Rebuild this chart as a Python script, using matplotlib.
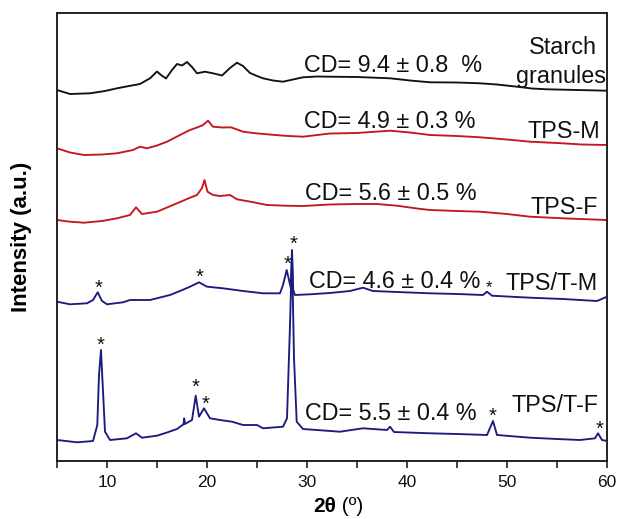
import matplotlib
matplotlib.use("Agg")
import matplotlib.pyplot as plt
from matplotlib.ticker import MultipleLocator

plt.rcParams['font.family'] = ['Liberation Sans', 'DejaVu Sans']

# ---- data (2theta in degrees, intensity in arbitrary stacked units) ----
starch_x = [5.0, 6.3, 8.3, 9.8, 11.0, 12.2, 13.3, 14.3, 15.0, 15.4, 15.9, 16.5, 17.0, 17.5, 18.0,
            18.5, 19.0, 19.8, 20.6, 21.5, 22.3, 23.0, 23.6, 24.3, 25.0, 25.6, 26.6, 27.6, 28.6,
            29.6, 31.0, 32.3, 35.0, 38.3, 40.3, 42.3, 45.0, 47.3, 49.0, 51.0, 52.5, 54.0, 57.0,
            60.0]
starch_y = [371, 367, 367.7, 370, 372.7, 375, 377, 382.7, 389.5, 386, 382.5, 391, 397, 395.5, 399,
            394, 387.7, 389.3, 387.7, 385.5, 393, 398.3, 395, 388, 385, 382.7, 380.5, 379.3, 381.5,
            383.7, 384.5, 384.3, 384, 382.7, 380.5, 378.7, 378.5, 377.7, 376.5, 374.3, 372.5, 371.7,
            371, 370.3]

tpsm_x = [5.0, 6.3, 7.7, 9.5, 11.0, 12.6, 13.3, 14.0, 15.0, 16.0, 17.2, 18.3, 19.0, 19.6, 20.1,
          20.6, 21.5, 22.4, 23.6, 24.8, 26.0, 27.8, 29.6, 32.3, 35.0, 38.3, 40.3, 42.3, 45.0,
          47.3, 50.0, 52.3, 55.0, 57.5, 60.0]
tpsm_y = [312.7, 308.5, 306, 306.5, 307.7, 311, 314.3, 312.7, 315.5, 319.3, 325.5, 331, 333.5, 336,
          340.3, 334.3, 333.5, 333.7, 329.3, 327.8, 326.7, 325.2, 324.3, 327.5, 328, 330.3, 328.5,
          326, 325, 323.7, 321.5, 319.3, 318, 316.5, 316]

tpsf_x = [5.0, 6.3, 7.7, 9.5, 11.0, 12.3, 12.9, 13.5, 15.0, 16.0, 17.0, 18.0, 19.0, 19.5, 19.75,
          20.05, 20.6, 21.3, 22.3, 23.0, 24.5, 26.0, 27.8, 29.6, 32.3, 35.0, 37.0, 39.0, 41.0,
          42.3, 45.0, 47.3, 50.0, 52.3, 56.0, 60.0]
tpsf_y = [241, 239.3, 238.3, 240, 242.7, 246, 253.7, 247, 249.3, 253.5, 257.7, 262, 266, 273, 281,
          269.3, 266, 265, 266, 261.7, 259, 256, 255.3, 255, 256.5, 257, 257, 255.3, 252.5,
          251, 250, 249.3, 247, 244.3, 242.5, 241]

ttm_x = [5.0, 6.3, 8.0, 8.6, 9.07, 9.5, 10.0, 11.6, 12.3, 14.3, 15.3, 16.3, 17.3, 18.3, 19.2, 20.0,
         21.6, 23.6, 25.6, 27.3, 27.6, 27.97, 28.2, 28.38, 28.5, 28.62, 28.8, 30.3, 32.3, 34.3,
         35.6, 36.6, 39.0, 42.3, 45.0, 47.6, 48.0, 48.5, 50.0, 52.3, 55.6, 59.0, 60.0]
ttm_y = [159.3, 156.7, 157.7, 161, 168.7, 160, 156.7, 158.7, 161, 161, 163.5, 166, 170, 174.3,
         178.7, 174.3, 172.7, 170, 167.7, 167.7, 176, 191, 181, 173, 211, 171, 166, 166.7, 168,
         170, 173.3, 170, 169, 167.7, 167, 166, 169.3, 165.3, 164.5, 163.3, 162, 160, 164.3]

ttf_x = [5.0, 7.0, 8.6, 9.03, 9.2, 9.4, 9.57, 9.8, 10.3, 12.0, 12.9, 13.5, 15.0, 16.0, 17.0,
         17.65, 17.72, 17.8, 18.5, 18.87, 19.2, 19.7, 20.3, 21.3, 22.5, 23.6, 25.0, 25.6, 27.6,
         28.0, 28.3, 28.5, 28.7, 28.97, 29.6, 30.97, 33.3, 35.6, 38.0, 38.3, 38.7, 42.3, 45.0,
         48.0, 48.6, 49.0, 52.3, 55.0, 57.3, 58.8, 59.1, 59.5, 60.0]
ttf_y = [21, 18.7, 20, 36, 86, 111, 76, 29.3, 21, 22.7, 27.7, 23.3, 25.3, 28.5, 32,
         36.7, 42.7, 37, 41, 65.3, 44.3, 52.7, 42.7, 41, 39.3, 36, 36, 32.7, 34.3,
         42.7, 136, 209, 103, 39.3, 32, 31, 29.3, 32.7, 31, 34.3, 29, 27.7, 27,
         26, 40, 26, 23.3, 22, 21, 22.7, 27.7, 21, 20]

# asterisk marks (crystalline peaks)
star_x = [9.13, 19.23, 28.03, 28.63, 9.4, 18.9, 19.87, 48.57, 59.23]
star_y = [178.7, 189.3, 202.7, 222.7, 122, 79.3, 62.7, 51, 37.7]
small_star_x = [48.2]
small_star_y = [177.7]

cd_labels = ["CD= 9.4 \u00b1 0.8  %", "CD= 4.9 \u00b1 0.3 %", "CD= 5.6 \u00b1 0.5 %",
             "CD= 4.6 \u00b1 0.4 %", "CD= 5.5 \u00b1 0.4 %"]
cd_x = [29.7, 29.7, 29.8, 30.2, 29.8]
cd_y = [389, 332.7, 261, 172.7, 41]

sample_labels = ["TPS-M", "TPS-F", "TPS/T-M", "TPS/T-F"]
sample_x = [59.3, 59.1, 59.1, 59.2]
sample_y = [323.3, 246.7, 171, 49.3]

xticks = [10, 20, 30, 40, 50, 60]

BLACK = '#111111'
RED = '#c4161c'
NAVY = '#1c1c7e'

fig = plt.figure(figsize=(6.19, 5.19), dpi=100)
ax = fig.add_axes([57 / 619, 1 - 461 / 519, 550 / 619, 448 / 519])

for xs, ys, c in [(starch_x, starch_y, BLACK), (tpsm_x, tpsm_y, RED), (tpsf_x, tpsf_y, RED),
                  (ttm_x, ttm_y, NAVY), (ttf_x, ttf_y, NAVY)]:
    ax.plot(xs, ys, color=c, lw=1.35, solid_joinstyle='round')

for sx, sy in zip(star_x, star_y):
    ax.annotate('*', (sx, sy), xytext=(0, -8.2), textcoords='offset points',
                ha='center', va='baseline', fontsize=14.5, color='#111111')
for sx, sy in zip(small_star_x, small_star_y):
    ax.annotate('*', (sx, sy), xytext=(0, -6.6), textcoords='offset points',
                ha='center', va='baseline', fontsize=12, color='#111111')

for lab, lx, ly in zip(cd_labels, cd_x, cd_y):
    ax.text(lx, ly, lab, ha='left', va='baseline', fontsize=16.8, color='#111111')

ax.text(55.6, 407, "Starch", ha='center', va='baseline', fontsize=16.8, color='#111111')
ax.text(55.4, 378, "granules", ha='center', va='baseline', fontsize=16.8, color='#111111')
for lab, lx, ly in zip(sample_labels, sample_x, sample_y):
    ax.text(lx, ly, lab, ha='right', va='baseline', fontsize=16.8, color='#111111')

ax.set_xlim(5, 60)
ax.set_ylim(0, 448)
ax.set_xticks(xticks)
ax.xaxis.set_minor_locator(MultipleLocator(5))
ax.set_yticks([])
ax.tick_params(axis='x', which='both', direction='out', length=5, width=1.1,
               labelsize=12.5, pad=5, colors='#111111')
for sp in ax.spines.values():
    sp.set_linewidth(1.4)
    sp.set_color('#222222')

ax.set_ylabel("Intensity (a.u.)", fontsize=16, fontweight='bold', labelpad=18)

t1 = fig.text(313 / 619, 1 - 512 / 519, "2\u03b8", fontsize=15, fontweight='bold',
              ha='left', va='baseline')
ax.annotate(" (\u00ba)", xy=(1, 0), xycoords=t1, fontsize=15, ha='left', va='bottom')

fig.savefig("out.png", dpi=100)
